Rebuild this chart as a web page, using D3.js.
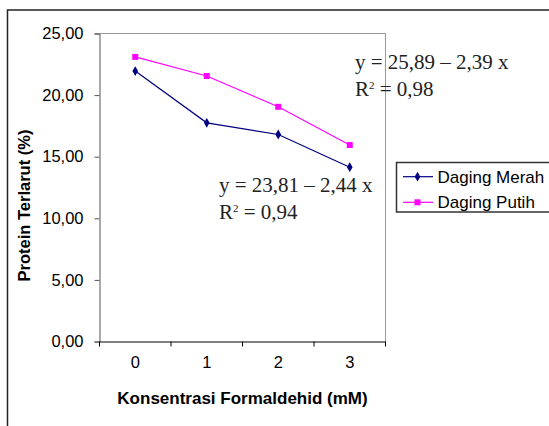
<!DOCTYPE html>
<head>
  <meta charset="utf-8">
  <script src="https://d3js.org/d3.v7.min.js"></script>
  <style>
    body { margin: 0; background: #fff; }
    text { font-family: Arial, "Liberation Sans", sans-serif; fill: #000; }
    .eq { font-family: "Times New Roman", "Liberation Serif", serif; font-size: 21px; fill: #222; }
  </style>
</head>
<body>
<script>
  // data
  var categories = ["0", "1", "2", "3"];
  var dagingMerah = [21.95, 17.75, 16.8, 14.15];
  var dagingPutih = [23.1, 21.55, 19.05, 15.95];
  var yTicks = [0, 5, 10, 15, 20, 25];
  var seriesNames = ["Daging Merah", "Daging Putih"];

  var W = 549, H = 426;
  var plot = { left: 99.5, right: 385.5, top: 33.5, bottom: 341.5 };

  var svg = d3.select("body").append("svg")
    .attr("width", W).attr("height", H);

  // outer frame
  svg.append("rect")
    .attr("x", 7.5).attr("y", 10)
    .attr("width", W + 10).attr("height", H + 10)
    .attr("fill", "none").attr("stroke", "#222").attr("stroke-width", 1.5);

  var x = d3.scaleBand().domain(categories).range([plot.left, plot.right]);
  var y = d3.scaleLinear().domain([0, 25]).range([plot.bottom, plot.top]);

  // plot area border (top, right)
  svg.append("path")
    .attr("d", "M" + plot.left + "," + plot.top + "H" + plot.right + "V" + plot.bottom)
    .attr("fill", "none").attr("stroke", "#999").attr("stroke-width", 1);

  var fmt = function (d) { return d3.format(".2f")(d).replace(".", ","); };

  // y axis
  var yAxis = svg.append("g")
    .attr("transform", "translate(" + plot.left + ",0)")
    .call(d3.axisLeft(y).tickValues(yTicks).tickSize(5).tickPadding(11).tickFormat(fmt));
  yAxis.selectAll("path, line").attr("stroke", "#555");
  yAxis.selectAll("text").attr("font-size", 16.5).attr("font-family", "Arial, 'Liberation Sans'").attr("fill", "#000");

  // x axis
  var xAxis = svg.append("g")
    .attr("transform", "translate(0," + plot.bottom + ")")
    .call(d3.axisBottom(x).tickSize(0).tickPadding(15));
  xAxis.select("path").attr("stroke", "#000").attr("stroke-width", 1);
  xAxis.selectAll("text").attr("font-size", 16.5).attr("font-family", "Arial, 'Liberation Sans'").attr("fill", "#000");
  // ticks on band boundaries
  var bounds = categories.map(function (c) { return x(c); }).concat([x(categories[3]) + x.bandwidth()]);
  svg.selectAll(".xtick").data(bounds).enter().append("line")
    .attr("x1", function (d) { return d; }).attr("x2", function (d) { return d; })
    .attr("y1", plot.bottom).attr("y2", plot.bottom + 5)
    .attr("stroke", "#000");

  var cx = function (d, i) { return x(categories[i]) + x.bandwidth() / 2; };
  var line = d3.line().x(cx).y(function (d) { return y(d); });

  // Daging Putih
  svg.append("path").datum(dagingPutih)
    .attr("d", line).attr("fill", "none").attr("stroke", "#ff00ff").attr("stroke-width", 1.2);
  svg.selectAll(".sq").data(dagingPutih).enter().append("rect")
    .attr("x", function (d, i) { return cx(d, i) - 3; })
    .attr("y", function (d) { return y(d) - 3; })
    .attr("width", 6).attr("height", 6).attr("fill", "#ff00ff");

  // Daging Merah
  svg.append("path").datum(dagingMerah)
    .attr("d", line).attr("fill", "none").attr("stroke", "#000080").attr("stroke-width", 1.2);
  var diamond = d3.symbol().type(d3.symbolDiamond).size(28);
  svg.selectAll(".dm").data(dagingMerah).enter().append("path")
    .attr("d", diamond)
    .attr("transform", function (d, i) { return "translate(" + cx(d, i) + "," + y(d) + ")"; })
    .attr("fill", "#000080");

  // regression equations
  var eq1 = svg.append("text").attr("class", "eq").attr("x", 355).attr("y", 68.5);
  eq1.text("y = 25,89 \u2013 2,39 x");
  var r1 = svg.append("text").attr("class", "eq").attr("x", 355).attr("y", 95.5);
  r1.append("tspan").text("R");
  r1.append("tspan").attr("font-size", 11).attr("dy", -7).text("2");
  r1.append("tspan").attr("dy", 7).text(" = 0,98");

  svg.append("text").attr("class", "eq").attr("x", 219).attr("y", 192).text("y = 23,81 \u2013 2,44 x");
  var r2 = svg.append("text").attr("class", "eq").attr("x", 219).attr("y", 218.5);
  r2.append("tspan").text("R");
  r2.append("tspan").attr("font-size", 11).attr("dy", -7).text("2");
  r2.append("tspan").attr("dy", 7).text(" = 0,94");

  // axis titles
  svg.append("text")
    .attr("x", 242.5).attr("y", 404)
    .attr("text-anchor", "middle")
    .attr("font-size", 17).attr("font-weight", "bold")
    .text("Konsentrasi Formaldehid (mM)");

  svg.append("text")
    .attr("transform", "translate(30,205.5) rotate(-90)")
    .attr("text-anchor", "middle")
    .attr("font-size", 16.5).attr("font-weight", "bold")
    .text("Protein Terlarut (%)");

  // legend
  var lg = svg.append("g");
  lg.append("rect")
    .attr("x", 396.5).attr("y", 162.5).attr("width", 170).attr("height", 49.5)
    .attr("fill", "#fff").attr("stroke", "#333").attr("stroke-width", 1.5);
  var rows = [176.7, 202.3];
  var colors = ["#000080", "#ff00ff"];
  seriesNames.forEach(function (name, i) {
    lg.append("line").attr("x1", 403).attr("x2", 433).attr("y1", rows[i]).attr("y2", rows[i])
      .attr("stroke", colors[i]).attr("stroke-width", 1.2);
    if (i === 0) {
      lg.append("path").attr("d", diamond)
        .attr("transform", "translate(417.5," + rows[i] + ")").attr("fill", colors[i]);
    } else {
      lg.append("rect").attr("x", 414.5).attr("y", rows[i] - 3).attr("width", 6).attr("height", 6)
        .attr("fill", colors[i]);
    }
    lg.append("text").attr("x", 437.5).attr("y", rows[i] + 6)
      .attr("font-size", 17).text(name);
  });
</script>
</body>
